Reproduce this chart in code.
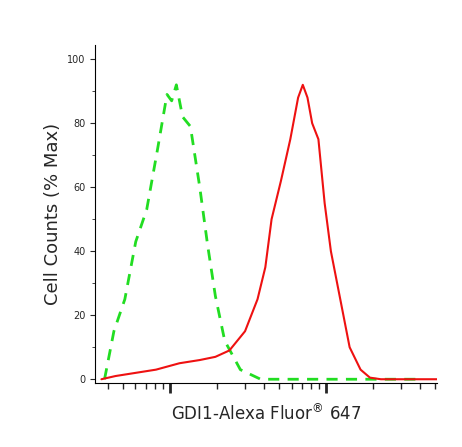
import numpy as np, pandas as pd, seaborn as sns, matplotlib
matplotlib.use("Agg")
import matplotlib.pyplot as plt
from matplotlib.ticker import LogLocator, NullFormatter, MultipleLocator

green_logx = [2.58,2.64,2.71,2.78,2.85,2.92,2.98,3.01,3.04,3.08,3.13,3.19,3.24,3.29,3.35,3.45,3.58,3.75,3.9,4.1,4.3,4.6]
green_y = [0,15,25,43,53,72,89,87,92,82,79,60,42,26,12,3,0,0,0,0,0,0]
red_logx = [2.56,2.65,2.78,2.91,3.06,3.19,3.29,3.38,3.48,3.56,3.61,3.65,3.71,3.77,3.82,3.85,3.88,3.91,3.95,3.99,4.03,4.09,4.15,4.22,4.28,4.35,4.71]
red_y = [0,1,2,3,5,6,7,9,15,25,35,50,62,75,88,92,88,80,75,55,40,25,10,3,0.5,0,0]

sns.set_style("ticks")
fig = plt.figure(figsize=(4.62,4.47), dpi=100)
ax = fig.add_axes([0.206,0.143,0.74,0.756])
sns.lineplot(x=10**np.array(green_logx), y=green_y, ax=ax, color="#22dd22", lw=2, linestyle=(0,(4,3)))
sns.lineplot(x=10**np.array(red_logx), y=red_y, ax=ax, color="#ee1111", lw=1.5)
ax.set_xscale("log")
ax.set_xlim(10**2.52, 10**4.71)
ax.set_ylim(-1.2, 104.4)
ax.xaxis.set_major_locator(LogLocator(base=10, numticks=20))
ax.xaxis.set_minor_locator(LogLocator(base=10, subs=np.arange(2,10), numticks=40))
ax.xaxis.set_major_formatter(NullFormatter())
ax.xaxis.set_minor_formatter(NullFormatter())
ax.yaxis.set_major_locator(MultipleLocator(20))
ax.yaxis.set_minor_locator(MultipleLocator(10))
ax.tick_params(axis="y", labelsize=7)
ax.tick_params(axis="x", which="major", length=7, width=2)
ax.tick_params(axis="x", which="minor", length=4, width=1, bottom=True)
for s in ax.spines.values():
    s.set_color("black")
sns.despine(ax=ax)
ax.set_ylabel("Cell Counts (% Max)", fontsize=13)
ax.set_xlabel("GDI1-Alexa Fluor$^{®}$ 647", fontsize=12)
fig.savefig("out.png", dpi=100)
